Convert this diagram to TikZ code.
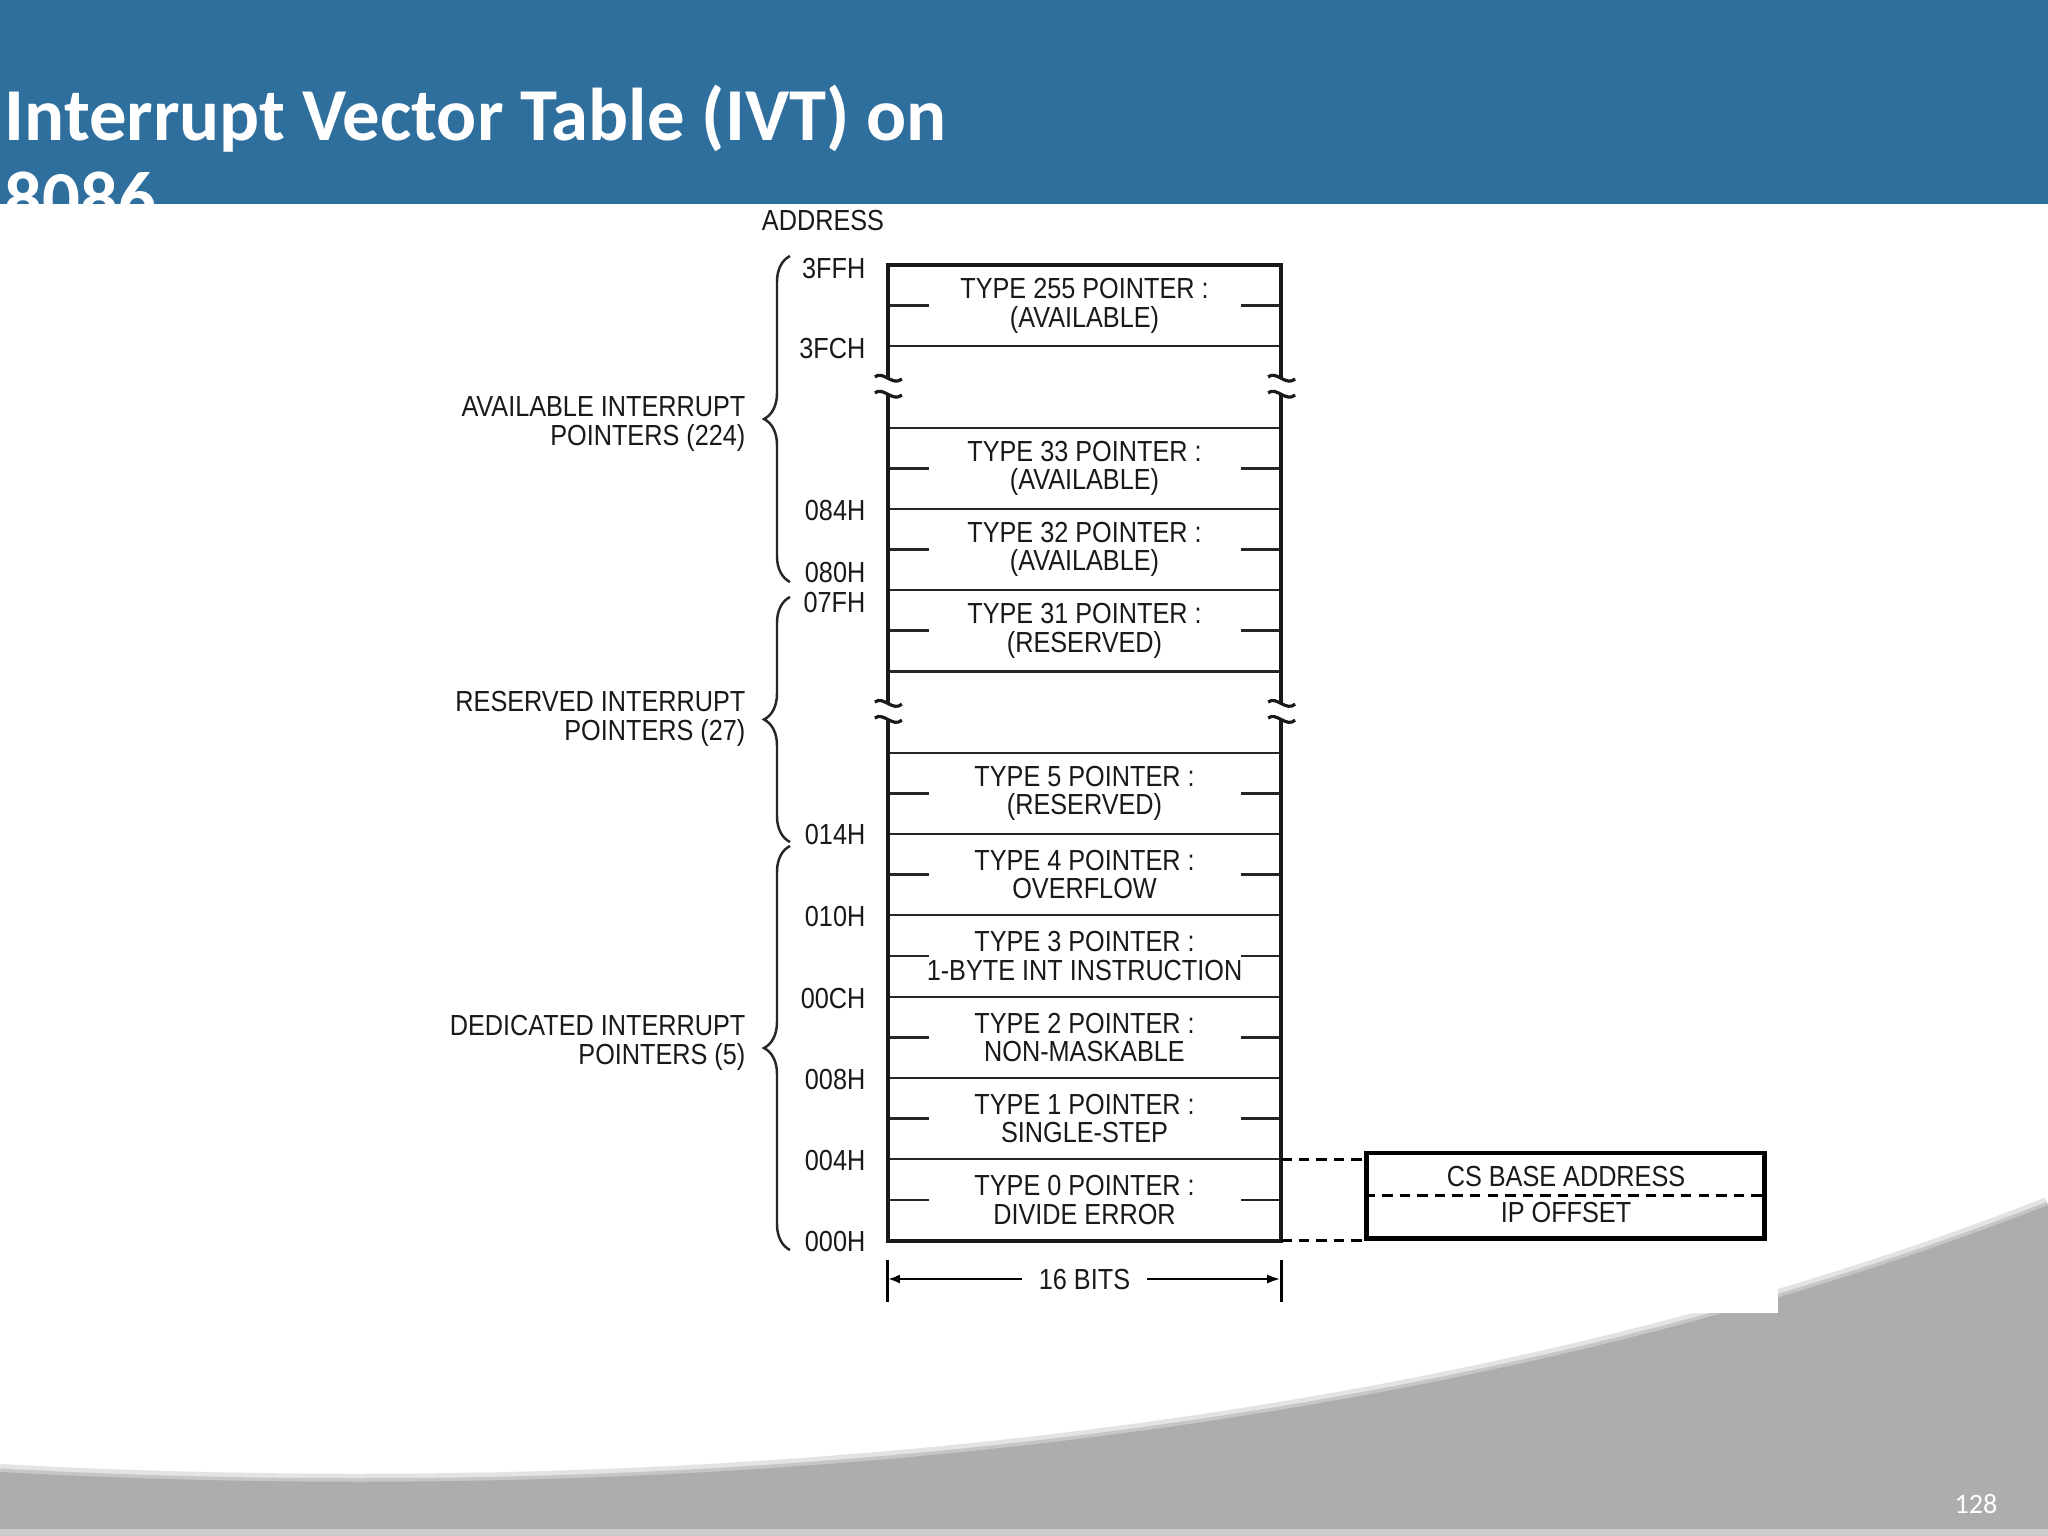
\documentclass[tikz,border=0pt]{standalone}
\usepackage{fontspec}
\setmainfont{Carlito}
\newfontfamily\scanfont[FakeStretch=0.87]{Liberation Sans}
\usetikzlibrary{arrows.meta, positioning, decorations.pathreplacing}
\definecolor{hdrblue}{RGB}{46,111,158}
\definecolor{swoosh}{RGB}{173,173,173}

\begin{document}
\begin{tikzpicture}[x=0.01cm, y=-0.01cm, >=Latex,
		cellbase/.style={rectangle, minimum width=3.93cm, minimum height=0.813cm, inner sep=0pt, outer sep=0pt, align=center, text=black!90, font=\scanfont\fontsize{8.25pt}{8.1pt}\selectfont},
		cell/.style={cellbase, draw=black!85, line width=0.6pt,
			path picture={\draw[line width=0.8pt] (path picture bounding box.west) -- ++(0.41cm,0) (path picture bounding box.east) -- ++(-0.40cm,0);}},
		gap/.style={cellbase},
		lbl/.style={inner sep=0pt, text=black!90, font=\scanfont\fontsize{8.25pt}{8.1pt}\selectfont},
		addr/.style={lbl, anchor=east},
		grp/.style={lbl, anchor=east, align=right},
		wall/.style={line width=1.2pt, black!90},
		grpbrace/.style={decorate, decoration={brace, amplitude=0.26cm}, line width=0.7pt, black!85},
		dashline/.style={line width=0.9pt, dash pattern=on 3pt off 2pt},
		title/.style={inner sep=0pt, text=white, font=\bfseries\fontsize{21.25pt}{22pt}\selectfont},
		brk/.pic={\draw[line width=0.9pt, black!90] (-0.13cm,0.02cm) .. controls (-0.05cm,0.09cm) and (0.05cm,-0.08cm) .. (0.14cm,0cm);}]
	
	\useasboundingbox (0,0) rectangle (2048,1536);
	
	% Fundo do slide
	\draw[gray!22, line width=0.16cm] (0,1472) .. controls (700,1510) and (1450,1440) .. (2048,1205);
	\draw[gray!45, line width=0.07cm] (0,1472) .. controls (700,1510) and (1450,1440) .. (2048,1205);
	\fill[swoosh] (0,1472) .. controls (700,1510) and (1450,1440) .. (2048,1205) -- (2048,1536) -- (0,1536) -- cycle;
	\fill[gray!40] (0,1529) rectangle (2048,1536);
	\fill[hdrblue] (0,0) rectangle (2048,204);
	\node[title, anchor=base west] (ttl) at (4,140) {Interrupt Vector Table (IVT) on};
	\node[title, anchor=base west] (ttl2) at (4,223) {8086};
	\fill[white] (0,204) rectangle (1778,1313);
	
	% Linhas da tabela
	\node[cell] (r0) at (1084.5,305.65) {TYPE 255 POINTER :\\(AVAILABLE)};
	\node[gap] (r1) at (1084.5,386.95) {};
	\node[cell] (r2) at (1084.5,468.25) {TYPE 33 POINTER :\\(AVAILABLE)};
	\node[cell] (r3) at (1084.5,549.55) {TYPE 32 POINTER :\\(AVAILABLE)};
	\node[cell] (r4) at (1084.5,630.85) {TYPE 31 POINTER :\\(RESERVED)};
	\node[gap] (r5) at (1084.5,712.15) {};
	\node[cell] (r6) at (1084.5,793.45) {TYPE 5 POINTER :\\(RESERVED)};
	\node[cell] (r7) at (1084.5,874.75) {TYPE 4 POINTER :\\OVERFLOW};
	\node[cell] (r8) at (1084.5,956.05) {TYPE 3 POINTER :\\1-BYTE INT INSTRUCTION};
	\node[cell] (r9) at (1084.5,1037.35) {TYPE 2 POINTER :\\NON-MASKABLE};
	\node[cell] (r10) at (1084.5,1118.65) {TYPE 1 POINTER :\\SINGLE-STEP};
	\node[cell] (r11) at (1084.5,1199.95) {TYPE 0 POINTER :\\DIVIDE ERROR};
	
	% Paredes com quebras
	\draw[wall] ([yshift=0.08cm]r1.west) -- (r0.north west) -- (r0.north east) -- ([yshift=0.08cm]r1.east);
	\draw[wall] ([yshift=-0.08cm]r1.west) -- ([yshift=0.08cm]r5.west);
	\draw[wall] ([yshift=-0.08cm]r1.east) -- ([yshift=0.08cm]r5.east);
	\draw[wall] ([yshift=-0.08cm]r5.west) -- (r11.south west) -- (r11.south east) -- ([yshift=-0.08cm]r5.east);
	\pic at ([yshift=0.08cm]r1.west) {brk};
	\pic at ([yshift=-0.08cm]r1.west) {brk};
	\pic at ([yshift=0.08cm]r1.east) {brk};
	\pic at ([yshift=-0.08cm]r1.east) {brk};
	\pic at ([yshift=0.08cm]r5.west) {brk};
	\pic at ([yshift=-0.08cm]r5.west) {brk};
	\pic at ([yshift=0.08cm]r5.east) {brk};
	\pic at ([yshift=-0.08cm]r5.east) {brk};
	
	% Enderecos
	\node[lbl] (addrhd) at (823,221) {ADDRESS};
	\node[addr] (a3ff) at (866,269) {3FFH};
	\node[addr] (a3fc) at (866,349) {3FCH};
	\node[addr] (a084) at (866,511) {084H};
	\node[addr] (a080) at (866,573) {080H};
	\node[addr] (a07f) at (866,603) {07FH};
	\node[addr] (a014) at (866,835) {014H};
	\node[addr] (a010) at (866,916) {010H};
	\node[addr] (a00c) at (866,998) {00CH};
	\node[addr] (a008) at (866,1079) {008H};
	\node[addr] (a004) at (866,1160) {004H};
	\node[addr] (a000) at (866,1241) {000H};
	
	% Chaves e grupos
	\draw[grpbrace] (790,582) -- (790,256);
	\draw[grpbrace] (790,842) -- (790,597);
	\draw[grpbrace] (790,1250) -- (790,846);
	\node[grp] (gavail) at (746,424) {AVAILABLE INTERRUPT\\POINTERS (224)};
	\node[grp] (gres) at (746,719) {RESERVED INTERRUPT\\POINTERS (27)};
	\node[grp] (gded) at (746,1043) {DEDICATED INTERRUPT\\POINTERS (5)};
	
	% Largura de 16 bits
	\draw[line width=0.9pt] ([yshift=-0.19cm]r11.south west) -- ([yshift=-0.61cm]r11.south west);
	\draw[line width=0.9pt] ([yshift=-0.19cm]r11.south east) -- ([yshift=-0.61cm]r11.south east);
	\node[lbl, inner xsep=0.16cm] (bits) at (1084.5,1279) {16 BITS};
	\draw[line width=0.8pt, -{Latex[open, length=0.12cm, width=0.09cm]}] (bits.west) -- (bits.west -| r11.west);
	\draw[line width=0.8pt, -{Latex[length=0.14cm, width=0.09cm]}] (bits.east) -- (bits.east -| r11.east);
	
	% Vetor CS:IP
	\node[rectangle, draw, line width=1.4pt, minimum width=3.97cm, minimum height=0.85cm] (csip) at (1565.5,1195.5) {};
	\node[lbl] (cs) at (1566,1176) {CS BASE ADDRESS};
	\node[lbl] (ip) at (1566,1212) {IP OFFSET};
	\draw[dashline] (csip.west) -- (csip.east);
	\draw[dashline] (r11.north east) -- (r11.north east -| csip.west);
	\draw[dashline] (r11.south east) -- (r11.south east -| csip.west);
	
	\node[text=white, font=\fontsize{8pt}{9pt}\selectfont] (pgno) at (1976,1504) {128};
	
\end{tikzpicture}
\end{document}
